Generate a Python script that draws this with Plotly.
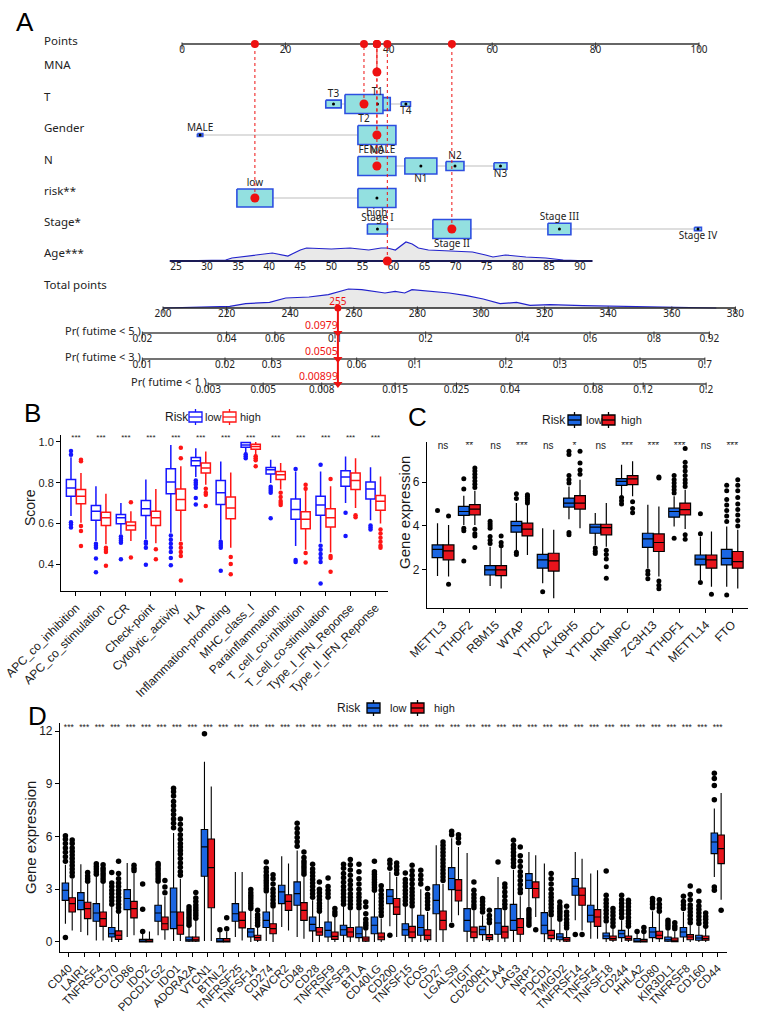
import math
import plotly.graph_objects as go

W, H = 770, 1030

# ================= Panel A : nomogram data =================
points_ticks = [0, 20, 40, 60, 80, 100]
mna_points = 37.7
T_levels = ["T1", "T2", "T3", "T4"]
T_points = [37.8, 35.2, 29.3, 43.3]
T_freq = [0.272, 0.595, 0.098, 0.035]
gender_levels = ["MALE", "FEMALE"]
gender_points = [3.5, 37.7]
gender_freq = [0.02, 0.98]
N_levels = ["N0", "N1", "N2", "N3"]
N_points = [37.7, 46.2, 52.8, 61.6]
N_freq = [0.488, 0.346, 0.109, 0.057]
risk_levels = ["low", "high"]
risk_points = [14.1, 37.7]
risk_freq = [0.473, 0.527]
stage_levels = ["Stage I", "Stage II", "Stage III", "Stage IV"]
stage_points = [37.8, 52.2, 73.0, 99.8]
stage_freq = [0.165, 0.596, 0.218, 0.020]

age_ticks = [25, 30, 35, 40, 45, 50, 55, 60, 65, 70, 75, 80, 85, 90]
age_scale_ages = [25, 90]
age_scale_points = [-1.16, 76.98]
age_axis_span = [24, 92]
age_grid = [24, 30, 33, 34, 37, 40.5, 43, 45, 46, 50, 53, 56, 58, 59, 60.3, 62, 63, 64,
            65.6, 69.5, 72.7, 74.8, 76, 78, 79.7, 81.3, 84.5, 87.3, 92]
age_density = [0, 0.5, 1, 3, 5, 8, 5, 11, 13, 12, 13, 11, 13, 13, 11, 19, 17, 13,
               11, 10, 9, 6, 4, 6, 5, 4, 3, 1, 0]

patient = {"T": "T2", "Gender": "FEMALE", "N": "N0", "risk": "low", "Stage": "Stage II"}
patient_age = 59
patient_total = 255

total_ticks = [200, 220, 240, 260, 280, 300, 320, 340, 360, 380]
total_grid = [200, 221, 226, 233.5, 238.6, 245.9, 252, 258.3, 262.5, 269.8, 273, 276, 278.3,
              283.5, 290, 295.5, 300.7, 306, 311.2, 315.4, 321.7, 332, 342.7, 353, 363.5, 374]
total_density = [0, 1.7, 4.3, 5.7, 10, 11, 13.3, 19, 18.3, 15, 16.7, 15, 18.3,
                 16.7, 15, 12.3, 9, 4.3, 5.7, 2.7, 3.3, 2.3, 1.7, 1, 0.3, 0]

pr5_labels = ["0.02", "0.04", "0.06", "0.1", "0.2", "0.4", "0.6", "0.8", "0.92"]
pr5_total = [193.5, 220.0, 235.2, 254.1, 282.6, 313.0, 334.3, 354.4, 371.8]
pr3_labels = ["0.01", "0.02", "0.03", "0.06", "0.1", "0.2", "0.3", "0.5", "0.7"]
pr3_total = [193.5, 219.5, 234.2, 260.9, 279.2, 307.8, 324.8, 350.0, 370.4]
pr1_labels = ["0.003", "0.005", "0.008", "0.015", "0.025", "0.04", "0.08", "0.12", "0.2"]
pr1_total = [214.2, 231.5, 249.9, 273.0, 292.3, 309.1, 335.3, 351.0, 370.8]
patient_probs = ["0.0979", "0.0505", "0.00899"]

# ================= Panel B data =================
B_names = ["APC_co_inhibition", "APC_co_stimulation", "CCR", "Check-point", "Cytolytic_activity",
           "HLA", "Inflammation-promoting", "MHC_class_I", "Parainflammation",
           "T_cell_co-inhibition", "T_cell_co-stimulation", "Type_I_IFN_Reponse", "Type_II_IFN_Reponse"]
B_sig = ["***"] * 13
B_low_q1 = [.733, .615, .598, .639, .745, .883, .693, .974, .842, .62, .64, .782, .72]
B_low_med = [.774, .66, .628, .672, .803, .907, .75, .985, .863, .668, .69, .828, .769]
B_low_q3 = [.815, .688, .644, .712, .868, .924, .81, .997, .875, .72, .733, .859, .803]
B_low_lo = [.636, .514, .546, .522, .554, .828, .52, .945, .798, .489, .506, .70, .615]
B_low_hi = [.925, .782, .70, .815, .985, .969, .904, 1.0, .912, .855, .855, .928, .876]
B_low_out = [[.956, .937, .605, .595, .58], [.50, .49, .48, .428, .36], [.535, .525, .515, .505, .424],
             [.51, .50, .48, .397], [.54, .52, .50, .48, .46, .43, .395], [.81, .80, .79, .775, .725, .693],
             [.51, .50, .49, .48, .367], [.94, .93, .92], [.78, .77, .76, .75, .625], [.867, .42, .41],
             [.888, .49, .47, .45, .43, .41, .305], [.652, .538], [.59, .58, .57]]
B_high_q1 = [.696, .59, .567, .59, .665, .847, .623, .964, .815, .574, .582, .766, .665]
B_high_med = [.733, .628, .59, .628, .717, .872, .676, .977, .839, .62, .628, .811, .709]
B_high_q3 = [.766, .655, .607, .66, .769, .896, .73, .989, .855, .657, .672, .847, .737]
B_high_lo = [.603, .498, .514, .502, .514, .79, .48, .937, .766, .47, .457, .676, .60]
B_high_hi = [.847, .746, .66, .769, .88, .953, .85, 1.0, .896, .78, .782, .92, .83]
B_high_out = [[.912, .905, .587, .563, .489], [.48, .47, .46, .392], [.704, .432], [.473, .424],
              [.972, .92, .50, .48, .46, .44, .319], [.77, .75, .74, .685], [.435, .40, .35],
              [.93, .92, .91, .88], [.75, .73, .71, .70, .69], [.79, .77, .454, .408],
              [.818, .44, .43, .363], [.64, .63], [.57, .55, .53, .51, .49, .48]]

# ================= Panel C data =================
C_names = ["METTL3", "YTHDF2", "RBM15", "WTAP", "YTHDC2", "ALKBH5", "YTHDC1", "HNRNPC",
           "ZC3H13", "YTHDF1", "METTL14", "FTO"]
C_sig = ["ns", "**", "ns", "***", "ns", "*", "ns", "***", "***", "***", "ns", "***"]
C_low_q1 = [2.56, 4.48, 1.77, 3.72, 2.08, 4.86, 3.67, 5.85, 3.03, 4.4, 2.23, 2.23]
C_low_med = [2.94, 4.66, 2.0, 4.02, 2.46, 5.04, 3.95, 6.03, 3.41, 4.66, 2.49, 2.53]
C_low_q3 = [3.14, 4.89, 2.2, 4.21, 2.71, 5.27, 4.08, 6.15, 3.67, 4.81, 2.68, 2.94]
C_low_lo = [1.73, 4.05, 1.27, 2.91, 1.39, 4.31, 3.14, 5.38, 2.08, 3.98, 1.54, 1.24]
C_low_hi = [4.13, 5.38, 3.06, 5.04, 3.9, 5.8, 4.59, 6.79, 4.97, 5.35, 3.52, 3.98]
C_low_out = [[4.71], [5.68, 6.15, 3.9, 3.78, 2.41], [3.2, 3.35, 3.52, 3.9, 4.0, 4.1, 4.21],
             [5.47, 5.25, 2.8, 2.7], [1.01], [5.95, 6.1, 6.3, 7.25, 7.4, 3.7, 3.6], [3.0, 2.85, 2.75],
             [5.3, 5.15, 5.0], [1.95, 1.8, 1.6], [5.5, 5.65, 5.8, 5.95, 6.1, 6.3, 3.44],
             [3.65, 4.56, 1.43], [4.2, 4.45, 4.7, 4.95, 5.2, 5.6, 5.85, 0.86]]
C_high_q1 = [2.46, 4.51, 1.74, 3.55, 1.95, 4.77, 3.6, 5.88, 2.84, 4.51, 2.08, 2.08]
C_high_med = [2.87, 4.77, 2.0, 3.86, 2.41, 5.04, 3.93, 6.14, 3.25, 4.74, 2.46, 2.38]
C_high_q3 = [3.14, 4.97, 2.2, 4.13, 2.76, 5.38, 4.08, 6.29, 3.64, 5.04, 2.68, 2.84]
C_high_lo = [1.7, 4.05, 1.16, 2.68, 0.71, 3.9, 3.06, 5.35, 1.7, 3.86, 1.24, 1.16]
C_high_hi = [4.05, 5.6, 3.0, 4.95, 3.83, 6.1, 5.04, 6.94, 4.89, 5.65, 3.75, 3.83]
C_high_out = [[4.46, 1.35], [5.75, 5.9, 6.05, 6.2, 6.35, 6.5, 6.64, 3.85, 3.65, 3.55, 3.02],
              [3.1, 3.25, 3.55], [5.05, 5.15, 5.25, 5.35, 5.42], [], [6.35, 6.55, 6.87, 7.4],
              [2.9, 2.7, 2.5, 2.15, 1.62], [5.1, 4.8, 4.6], [6.23, 6.18, 1.5, 1.3, 1.15],
              [5.8, 5.95, 6.1, 6.3, 6.5, 6.7, 6.9, 7.52, 3.6, 3.4], [0.9],
              [4.0, 4.25, 4.5, 4.75, 5.0, 5.3, 5.6, 5.85, 6.1]]

# ================= Panel D data =================
D_names = ["CD40", "LAIR1", "TNFRSF4", "CD70", "CD86", "IDO2", "PDCD1LG2", "IDO1", "ADORA2A", "VTCN1",
           "BTNL2", "TNFRSF25", "TNFSF14", "CD274", "HAVCR2", "CD48", "CD28", "TNFRSF9", "TNFSF9", "BTLA",
           "CD40LG", "CD200", "TNFSF15", "ICOS", "CD27", "LGALS9", "TIGIT", "CD200R1", "CTLA4", "LAG3",
           "NRP1", "PDCD1", "TMIGD2", "TNFRSF14", "TNFSF4", "TNFSF18", "CD244", "HHLA2", "CD80",
           "KIR3DL1", "TNFRSF8", "CD160", "CD44"]
D_sig = ["***"] * 43
D_low_q1 = [2.37, 1.84, 1.18, 0.28, 1.84, 0.0, 1.18, 0.76, 0.05, 3.74, 0.0, 1.18, 0.28, 0.82, 2.18, 2.09,
            0.63, 0.28, 0.38, 0.25, 0.47, 2.18, 0.38, 0.38, 1.61, 2.98, 0.61, 0.42, 0.44, 0.66, 3.04, 0.47,
            0.13, 2.66, 1.14, 0.19, 0.25, 0.0, 0.25, 0.04, 0.28, 0.1, 5.03]
D_low_med = [2.94, 2.37, 1.65, 0.47, 2.47, 0.03, 1.65, 1.71, 0.13, 5.41, 0.05, 1.61, 0.57, 1.23, 2.85, 2.75,
             1.0, 0.66, 0.7, 0.47, 0.95, 2.6, 0.7, 0.82, 2.37, 3.61, 1.23, 0.7, 1.08, 1.23, 3.51, 0.95,
             0.28, 3.17, 1.52, 0.34, 0.47, 0.06, 0.57, 0.13, 0.57, 0.23, 5.69]
D_low_q3 = [3.36, 2.81, 2.18, 0.82, 2.98, 0.15, 2.09, 3.07, 0.28, 6.4, 0.19, 2.18, 0.76, 1.71, 3.23, 3.42,
            1.42, 1.14, 0.95, 0.85, 1.42, 2.98, 1.04, 1.52, 3.26, 4.23, 1.9, 0.89, 1.9, 2.14, 3.89, 1.67,
            0.47, 3.61, 2.09, 0.51, 0.66, 0.19, 0.82, 0.28, 0.82, 0.38, 6.2]
D_low_lo = [1.04, 0.57, 0.08, 0.0, 0.28, 0.0, 0.38, 0.05, 0.0, 0.05, 0.0, 0.28, 0.0, 0.05, 0.85, 0.28,
            0.0, 0.0, 0.0, 0.0, 0.0, 0.89, 0.0, 0.0, 0.0, 1.14, 0.0, 0.05, 0.0, 0.0, 2.0, 0.0,
            0.0, 1.23, 0.19, 0.0, 0.0, 0.0, 0.0, 0.0, 0.0, 0.0, 3.7]
D_low_hi = [4.4, 4.42, 3.7, 1.99, 4.5, 0.55, 3.32, 6.2, 0.85, 10.26, 0.6, 3.98, 1.76, 2.75, 4.88, 5.2,
            2.37, 2.4, 1.99, 1.8, 2.8, 4.0, 1.99, 3.0, 5.5, 5.9, 5.07, 1.52, 3.7, 4.1, 5.12, 4.46,
            1.14, 5.12, 3.89, 1.04, 1.23, 0.5, 1.75, 0.65, 1.7, 0.89, 7.6]
D_low_out = [[0.25, 4.6, 4.85, 5.1, 5.35, 5.6, 5.85, 6.05], [], [3.85, 4.0, 4.15, 4.3, 4.45],
             [2.15, 2.35, 2.55, 2.75, 2.95, 3.15, 3.35, 3.95], [], [0.6, 1.86, 3.3],
             [3.45, 3.6, 3.75, 3.9, 4.05, 4.2, 4.35, 4.46],
             [6.5, 6.75, 7.0, 7.25, 7.5, 7.75, 8.0, 8.3, 8.55, 8.75],
             [0.95, 1.1, 1.25, 1.4, 1.55, 1.7, 1.85, 2.0], [11.85], [0.7], [],
             [1.9, 2.05, 2.2, 2.35, 2.5, 2.65, 2.8, 2.98],
             [2.9, 3.05, 3.2, 3.35, 3.5, 3.65, 3.8, 4.0, 4.2, 4.55], [],
             [5.45, 5.7, 5.95, 6.2, 6.45, 6.75],
             [2.55, 2.75, 2.95, 3.15, 3.35, 3.55, 3.75, 3.95, 4.15, 4.42],
             [2.55, 2.75, 2.95, 3.15, 3.64],
             [2.15, 2.35, 2.55, 2.75, 2.95, 3.15, 3.4, 3.65, 3.9, 4.2, 4.42],
             [1.95, 2.15, 2.35, 2.55, 2.75, 3.0, 3.3, 3.6, 4.0, 4.42],
             [2.95, 3.1, 3.25, 3.4, 3.55, 3.7, 3.85, 4.0, 4.6], [0.38, 4.2, 4.45, 4.65],
             [2.15, 2.35, 2.55, 2.75, 2.95, 3.15, 3.35, 3.55, 3.93], [3.3, 3.55, 3.8, 4.08], [],
             [0.95, 6.1, 6.3], [], [1.7, 1.9, 2.1, 2.3, 2.47], [4.55],
             [4.3, 4.5, 4.7, 4.9, 5.1, 5.3, 5.5, 5.79], [1.85, 1.7, 1.55, 1.4, 1.25, 1.1, 0.95], [],
             [1.3, 1.45, 1.6, 1.75, 1.9, 2.05, 2.28], [0.42], [],
             [1.2, 1.4, 1.6, 1.8, 2.0, 2.2, 2.4, 2.66, 4.04], [1.4, 1.6, 1.8, 2.0, 2.2, 2.4, 2.66],
             [0.6], [1.95, 2.15, 2.3, 2.47], [0.8, 0.95, 1.1, 1.23], [1.9, 2.1, 2.3, 2.6],
             [1.05, 1.25, 1.45, 1.65, 1.85, 2.05, 2.3, 2.9], [3.13, 2.94, 8.1, 8.9, 9.3, 9.6]]
D_high_q1 = [1.71, 1.33, 0.89, 0.15, 1.37, 0.0, 0.7, 0.44, 0.05, 1.95, 0.0, 0.8, 0.1, 0.47, 1.8, 1.23,
             0.38, 0.15, 0.28, 0.05, 0.13, 1.57, 0.25, 0.13, 0.7, 2.33, 0.25, 0.13, 0.23, 0.44, 2.52, 0.19,
             0.04, 2.09, 0.89, 0.1, 0.1, 0.0, 0.19, 0.02, 0.13, 0.1, 4.46]
D_high_med = [2.18, 1.9, 1.33, 0.38, 1.9, 0.03, 1.04, 0.95, 0.13, 4.23, 0.05, 1.23, 0.25, 0.76, 2.31, 1.8,
              0.57, 0.32, 0.57, 0.17, 0.28, 1.99, 0.57, 0.38, 1.23, 2.94, 0.57, 0.25, 0.57, 0.82, 3.04, 0.38,
              0.13, 2.66, 1.42, 0.19, 0.19, 0.06, 0.38, 0.1, 0.28, 0.19, 5.31]
D_high_q3 = [2.52, 2.26, 1.71, 0.63, 2.31, 0.15, 1.42, 1.71, 0.28, 5.86, 0.19, 1.71, 0.38, 1.04, 2.69, 2.24,
             0.82, 0.57, 0.82, 0.28, 0.51, 2.47, 0.89, 0.7, 1.76, 3.55, 0.85, 0.42, 0.89, 1.33, 3.42, 0.66,
             0.25, 3.07, 1.84, 0.34, 0.34, 0.15, 0.61, 0.23, 0.42, 0.34, 6.09]
D_high_lo = [0.66, 0.38, 0.08, 0.0, 0.38, 0.0, 0.13, 0.05, 0.0, 0.05, 0.0, 0.08, 0.0, 0.0, 0.66, 0.19,
             0.0, 0.0, 0.0, 0.0, 0.0, 0.28, 0.0, 0.0, 0.0, 1.52, 0.0, 0.0, 0.0, 0.0, 1.42, 0.0,
             0.0, 0.66, 0.19, 0.0, 0.0, 0.0, 0.0, 0.0, 0.0, 0.0, 2.41]
D_high_hi = [3.6, 3.3, 3.32, 1.6, 3.9, 0.6, 2.6, 3.6, 1.23, 8.84, 0.6, 3.98, 0.85, 1.9, 4.46, 3.7,
             1.61, 1.42, 1.8, 0.65, 1.33, 3.7, 1.9, 1.7, 3.3, 5.4, 1.8, 0.95, 1.8, 2.6, 4.93, 1.4,
             0.63, 4.74, 4.08, 0.76, 0.76, 0.5, 1.6, 0.6, 0.95, 0.76, 8.47]
D_high_out = [[3.75, 3.95, 4.15, 4.35, 4.55, 4.75, 4.95, 5.15, 5.35, 5.6, 5.8], [3.45, 3.6, 3.75, 3.95],
              [3.45, 3.6, 3.75, 3.9, 4.05, 4.2, 4.4],
              [1.75, 1.95, 2.15, 2.35, 2.55, 2.75, 2.95, 3.15, 3.35, 3.6, 3.9, 4.6], [4.05, 4.2, 4.36], [],
              [2.8, 3.13, 3.5],
              [3.8, 4.0, 4.25, 4.5, 4.75, 5.0, 5.2, 5.4, 5.6, 5.85, 6.1, 6.4, 6.7, 7.0],
              [1.35, 1.5, 1.65, 1.8, 1.95, 2.1, 2.3, 2.5, 2.81], [], [0.75, 1.38], [],
              [0.95, 1.1, 1.25, 1.4, 1.55, 1.8], [2.05, 2.2, 2.4, 2.6, 2.8, 3.0, 3.3, 3.6, 3.83], [],
              [3.85, 4.0, 4.15, 4.3, 4.45, 4.6, 4.8, 5.12],
              [1.75, 1.9, 2.05, 2.2, 2.4, 2.6, 2.8, 3.0, 3.42], [1.55, 1.7, 1.9],
              [1.95, 2.15, 2.35, 2.55, 2.75, 3.0, 3.25, 3.5, 3.8, 4.1, 4.4, 4.69],
              [0.8, 0.95, 1.1, 1.3, 1.6, 2.0, 2.28], [1.5, 1.7, 1.9, 2.1, 2.3, 2.5, 2.7, 2.95, 3.2],
              [3.9, 4.1, 4.3, 4.5], [2.05, 2.25, 2.45, 2.65, 2.85, 3.05, 3.3, 3.55, 3.8, 4.05, 4.36],
              [1.9, 2.1, 2.3, 2.5, 2.7, 3.04],
              [3.5, 3.7, 3.9, 4.1, 4.3, 4.5, 4.7, 4.9, 5.1, 5.3, 5.5, 5.69], [5.65, 5.9, 6.1],
              [1.95, 2.1, 2.3, 2.5, 2.7, 2.95, 3.42], [1.1, 1.3, 1.5, 1.8],
              [1.95, 2.15, 2.35, 2.6, 2.85, 3.1, 3.3], [2.8, 3.0, 3.25, 3.5, 3.75, 4.0, 4.3, 4.6, 4.9, 5.41],
              [0.7], [1.55, 1.75, 1.95, 2.15, 2.35, 2.55, 2.75, 3.0, 3.3, 3.6, 3.89],
              [0.8, 0.95, 1.1, 1.3, 1.5, 1.7, 2.03], [0.42], [], [0.9, 1.1, 1.3, 1.5, 1.7, 1.9],
              [0.9, 1.05, 1.2, 1.4, 1.6, 1.8, 2.0, 2.2, 2.37], [0.6, 0.82], [1.75, 1.95, 2.15, 2.4],
              [0.75, 0.9, 1.1], [1.1, 1.3, 1.5, 1.7, 1.9, 2.1, 2.4, 2.7, 3.19],
              [0.9, 1.1, 1.3, 1.45, 1.65], [1.8]]

# ================= styles / layout constants =================
FONT_A = "Noto Sans, DejaVu Sans, sans-serif"
FONT_G = "Liberation Sans, Arial, sans-serif"
RED = "#ee1111"
BOX_LINE_A = "#2d4fe0"
BOX_FILL_A = "#93e0e0"
LOW_FILL = "#1b66e2"
HIGH_FILL = "#e8141c"
B_LOW_LINE = "#1515ff"
B_HIGH_LINE = "#ff1515"

PX_PT0, PX_PER_PT = 182.0, 5.17        # points axis: 0 -> px 182
PX_TP200, PX_PER_TP = 163.0, 3.18      # total points axis: 200 -> px 163
BOX_W_PX, BOX_H_PX = 38.0, 19.0

ROW = {"points": 44, "MNA": 72, "T": 104, "Gender": 135, "N": 166, "risk": 198,
       "Stage": 229, "Age": 261, "total": 308, "pr5": 333, "pr3": 359, "pr1": 384}
ROW_LABELS = [("Points", 40), ("MNA", 64), ("T", 96), ("Gender", 127), ("N", 159),
              ("risk**", 190), ("Stage*", 221), ("Age***", 252), ("Total points", 284)]

fig = go.Figure()
A1 = dict(xaxis="x", yaxis="y", showlegend=False, hoverinfo="skip")
A2 = dict(xaxis="x2", yaxis="y", showlegend=False, hoverinfo="skip")


def age_to_points(a):
    a0, a1 = age_scale_ages
    p0, p1 = age_scale_points
    return p0 + (a - a0) * (p1 - p0) / (a1 - a0)


def axis_row(ticks, labels, y, kw, color="#555", width=1.8, label_dy=6):
    fig.add_trace(go.Scatter(x=[ticks[0], ticks[-1]], y=[y, y], mode="lines",
                             line=dict(color=color, width=width), **kw))
    fig.add_trace(go.Scatter(x=ticks, y=[y + 2] * len(ticks), mode="markers",
                             marker=dict(symbol="line-ns", size=5, line=dict(width=1, color="#333")), **kw))
    fig.add_trace(go.Scatter(x=ticks, y=[y + label_dy] * len(ticks), mode="text", text=labels,
                             textfont=dict(family=FONT_A, size=10, color="#222"), **kw))


# Points axis
axis_row(points_ticks, [str(t) for t in points_ticks], ROW["points"], A1, color="#666", width=2.2)

# Categorical rows
cat_vars = [("T", T_levels, T_points, T_freq), ("Gender", gender_levels, gender_points, gender_freq),
            ("N", N_levels, N_points, N_freq), ("risk", risk_levels, risk_points, risk_freq),
            ("Stage", stage_levels, stage_points, stage_freq)]
selected = {"MNA": mna_points}
for key, levels, pts, freq in cat_vars:
    yr = ROW[key]
    fig.add_trace(go.Scatter(x=[min(pts), max(pts)], y=[yr, yr], mode="lines",
                             line=dict(color="#bdbdbd", width=1), **A1))
    fmax = max(freq)
    lx, ly, lt = [], [], []
    for j, (lev, p, f) in enumerate(zip(levels, pts, freq)):
        s = math.sqrt(f / fmax)
        w = BOX_W_PX * s / PX_PER_PT
        h = BOX_H_PX * s
        fig.add_trace(go.Scatter(x=[p - w / 2, p + w / 2, p + w / 2, p - w / 2, p - w / 2],
                                 y=[yr - h / 2, yr - h / 2, yr + h / 2, yr + h / 2, yr - h / 2],
                                 mode="lines", fill="toself", fillcolor=BOX_FILL_A,
                                 line=dict(color=BOX_LINE_A, width=1.6), **A1))
        lx.append(p)
        ly.append(yr - h / 2 - 5.5 if j % 2 == 0 else yr + h / 2 + 5.5)
        lt.append(lev)
    fig.add_trace(go.Scatter(x=lx, y=ly, mode="text", text=lt,
                             textfont=dict(family=FONT_A, size=10, color="#222"), **A1))
    fig.add_trace(go.Scatter(x=pts, y=[yr] * len(pts), mode="markers",
                             marker=dict(color="black", size=3), **A1))
    selected[key] = pts[levels.index(patient[key])]

# Age row
age_pts = [age_to_points(a) for a in age_grid]
age_y = [ROW["Age"] - d for d in age_density]
fig.add_trace(go.Scatter(x=age_pts + [age_pts[-1], age_pts[0]], y=age_y + [ROW["Age"], ROW["Age"]],
                         mode="lines", fill="toself", fillcolor="#e9e9e9", line=dict(width=0), **A1))
fig.add_trace(go.Scatter(x=age_pts, y=age_y, mode="lines", line=dict(color="#2222cc", width=1.2), **A1))
fig.add_trace(go.Scatter(x=[age_to_points(age_axis_span[0]), age_to_points(age_axis_span[1])],
                         y=[ROW["Age"], ROW["Age"]], mode="lines",
                         line=dict(color="#1a1a55", width=1.8), **A1))
age_tick_pts = [age_to_points(a) for a in age_ticks]
fig.add_trace(go.Scatter(x=age_tick_pts, y=[ROW["Age"] + 6] * len(age_ticks), mode="text",
                         text=[str(a) for a in age_ticks],
                         textfont=dict(family=FONT_A, size=10, color="#222"), **A1))
selected["Age"] = age_to_points(patient_age)

# dotted guide lines from each selected value up to the Points axis
for key, p in selected.items():
    fig.add_trace(go.Scatter(x=[p, p], y=[ROW[key], ROW["points"]], mode="lines",
                             line=dict(color=RED, width=1, dash="dot"), **A1))
fig.add_trace(go.Scatter(x=list(selected.values()), y=[ROW[k] for k in selected], mode="markers",
                         marker=dict(color=RED, size=9), **A1))
fig.add_trace(go.Scatter(x=list(selected.values()), y=[ROW["points"]] * len(selected), mode="markers",
                         marker=dict(color=RED, size=8), **A1))

# Total points row
fig.add_trace(go.Scatter(x=total_grid + [total_grid[-1], total_grid[0]],
                         y=[ROW["total"] - d for d in total_density] + [ROW["total"], ROW["total"]],
                         mode="lines", fill="toself", fillcolor="#e9e9e9", line=dict(width=0), **A2))
fig.add_trace(go.Scatter(x=total_grid, y=[ROW["total"] - d for d in total_density], mode="lines",
                         line=dict(color="#2222cc", width=1.2), **A2))
axis_row(total_ticks, [str(t) for t in total_ticks], ROW["total"], A2, color="#222", width=1.4)

# Probability axes
for key, labs, pos, title in [("pr5", pr5_labels, pr5_total, "Pr( futime < 5 )"),
                              ("pr3", pr3_labels, pr3_total, "Pr( futime < 3 )"),
                              ("pr1", pr1_labels, pr1_total, "Pr( futime < 1 )")]:
    axis_row(pos, labs, ROW[key], A2, color="#444", width=1.6)
    fig.add_annotation(x=pos[0], y=ROW[key] - 3, xref="x2", yref="y", text=title, showarrow=False,
                       xanchor="right", xshift=1, font=dict(family=FONT_A, size=11, color="#222"))

# patient total points & predicted probabilities
fig.add_trace(go.Scatter(x=[patient_total, patient_total], y=[ROW["total"], ROW["pr1"]], mode="lines",
                         line=dict(color=RED, width=2), **A2))
fig.add_trace(go.Scatter(x=[patient_total], y=[ROW["total"]], mode="markers",
                         marker=dict(color=RED, size=7), **A2))
fig.add_trace(go.Scatter(x=[patient_total] * 3, y=[ROW["pr5"], ROW["pr3"], ROW["pr1"]], mode="markers",
                         marker=dict(color=RED, size=8, symbol="triangle-down"), **A2))
fig.add_trace(go.Scatter(x=[patient_total], y=[ROW["total"] - 6], mode="text", text=[str(patient_total)],
                         textfont=dict(family=FONT_A, size=10, color=RED), **A2))
fig.add_trace(go.Scatter(x=[patient_total] * 3, y=[ROW["pr5"] - 7, ROW["pr3"] - 7, ROW["pr1"] - 7],
                         mode="text", text=patient_probs, textposition="middle left",
                         textfont=dict(family=FONT_A, size=10.5, color=RED), **A2))

for txt, yy in ROW_LABELS:
    fig.add_annotation(x=42 / W, y=yy, xref="paper", yref="y", text=txt, showarrow=False,
                       xanchor="left", yanchor="middle", font=dict(family=FONT_A, size=11.5, color="#222"))


# ================= Box-plot panels =================
def box_series(xa, ya, off, width, q1, med, q3, lo, hi, outs, fill, line_color, line_w,
               out_color, out_size, name):
    xs = [i + off for i in range(len(q1))]
    fig.add_trace(go.Box(x=xs, q1=q1, median=med, q3=q3, lowerfence=lo, upperfence=hi,
                         orientation="v", width=width, boxpoints=False, whiskerwidth=0,
                         fillcolor=fill, line=dict(color=line_color, width=line_w),
                         name=name, showlegend=False, hoverinfo="skip",
                         xaxis=xa, yaxis=ya))
    ox, oy = [], []
    for i, vals in enumerate(outs):
        for v in vals:
            ox.append(i + off)
            oy.append(v)
    fig.add_trace(go.Scatter(x=ox, y=oy, mode="markers", marker=dict(color=out_color, size=out_size),
                             showlegend=False, hoverinfo="skip", xaxis=xa, yaxis=ya))


# Panel B
box_series("x3", "y3", -0.2, 0.37, B_low_q1, B_low_med, B_low_q3, B_low_lo, B_low_hi, B_low_out,
           "white", B_LOW_LINE, 1.5, B_LOW_LINE, 4.5, "low")
box_series("x3", "y3", 0.2, 0.37, B_high_q1, B_high_med, B_high_q3, B_high_lo, B_high_hi, B_high_out,
           "white", B_HIGH_LINE, 1.5, B_HIGH_LINE, 4.5, "high")
fig.add_trace(go.Scatter(x=list(range(len(B_names))), y=[1.021] * len(B_names), mode="text", text=B_sig,
                         textfont=dict(family=FONT_G, size=8, color="#222"), showlegend=False,
                         hoverinfo="skip", xaxis="x3", yaxis="y3"))

# Panel C
box_series("x4", "y4", -0.21, 0.41, C_low_q1, C_low_med, C_low_q3, C_low_lo, C_low_hi, C_low_out,
           LOW_FILL, "black", 1.2, "black", 5, "low")
box_series("x4", "y4", 0.21, 0.41, C_high_q1, C_high_med, C_high_q3, C_high_lo, C_high_hi, C_high_out,
           HIGH_FILL, "black", 1.2, "black", 5, "high")
fig.add_trace(go.Scatter(x=list(range(len(C_names))), y=[7.63] * len(C_names), mode="text", text=C_sig,
                         textfont=dict(family=FONT_G, size=10, color="#222"), showlegend=False,
                         hoverinfo="skip", xaxis="x4", yaxis="y4"))

# Panel D
box_series("x5", "y5", -0.22, 0.42, D_low_q1, D_low_med, D_low_q3, D_low_lo, D_low_hi, D_low_out,
           LOW_FILL, "black", 1.1, "black", 5.5, "low")
box_series("x5", "y5", 0.22, 0.42, D_high_q1, D_high_med, D_high_q3, D_high_lo, D_high_hi, D_high_out,
           HIGH_FILL, "black", 1.1, "black", 5.5, "high")
fig.add_trace(go.Scatter(x=list(range(len(D_names))), y=[12.18] * len(D_names), mode="text", text=D_sig,
                         textfont=dict(family=FONT_G, size=8.5, color="#222"), showlegend=False,
                         hoverinfo="skip", xaxis="x5", yaxis="y5"))


# ---------- ggplot-style legends (drawn in figure pixel space) ----------
def legend_key(x0, yc, fill, line_color, w=13, h=10):
    x1 = x0 + w
    xm = (x0 + x1) / 2
    common = dict(xref="paper", yref="y", line=dict(color=line_color, width=1.3))
    fig.add_shape(type="line", x0=xm / W, x1=xm / W, y0=yc - h / 2 - 3, y1=yc + h / 2 + 3, **common)
    fig.add_shape(type="rect", x0=x0 / W, x1=x1 / W, y0=yc - h / 2, y1=yc + h / 2, fillcolor=fill, **common)
    fig.add_shape(type="line", x0=x0 / W, x1=x1 / W, y0=yc, y1=yc, **common)


def plain_text(x, yc, txt, size, anchor="left", angle=0):
    fig.add_annotation(x=x / W, y=yc, xref="paper", yref="y", text=txt, showarrow=False, textangle=angle,
                       xanchor=anchor, yanchor="middle", font=dict(family=FONT_G, size=size, color="#1a1a1a"))


LEGENDS = [
    # (y, risk_x, low_key_x, low_txt_x, high_key_x, high_txt_x, low_fill, low_line, high_fill, high_line)
    (417, 163, 189, 203, 223, 238, "white", B_LOW_LINE, "white", B_HIGH_LINE),
    (420, 540, 568, 584, 602, 619, LOW_FILL, "black", HIGH_FILL, "black"),
    (708, 335, 367, 388, 411, 432, LOW_FILL, "black", HIGH_FILL, "black"),
]
for yc, rx, lkx, ltx, hkx, htx, lf, ll, hf, hl in LEGENDS:
    plain_text(rx, yc, "Risk", 12)
    legend_key(lkx, yc, lf, ll)
    plain_text(ltx, yc, "low", 11)
    legend_key(hkx, yc, hf, hl)
    plain_text(htx, yc, "high", 11)

# y-axis titles (placed like ggplot)
plain_text(30, 508, "Score", 14, anchor="center", angle=-90)
plain_text(404, 512, "Gene expression", 15, anchor="center", angle=-90)
plain_text(30, 838, "Gene expression", 15, anchor="center", angle=-90)


def dom_x(a, b):
    return [a / W, b / W]


def dom_y(top, bottom):
    return [1 - bottom / H, 1 - top / H]


ax_common = dict(showline=True, linecolor="black", linewidth=1.1, ticks="outside", ticklen=4,
                 tickwidth=1, tickcolor="black", showgrid=False, zeroline=False, automargin=False,
                 tickfont=dict(family=FONT_G, size=12, color="#1a1a1a"))
ax_small_y = {**ax_common, "tickfont": dict(family=FONT_G, size=11, color="#1a1a1a")}

fig.update_layout(
    width=W, height=H, margin=dict(l=0, r=0, t=0, b=0, autoexpand=False),
    paper_bgcolor="white", plot_bgcolor="white", showlegend=False,
    font=dict(family=FONT_G),
    xaxis=dict(domain=[0, 1], range=[(0 - PX_PT0) / PX_PER_PT, (W - PX_PT0) / PX_PER_PT],
               visible=False, anchor="y", automargin=False),
    xaxis2=dict(domain=[0, 1], range=[200 + (0 - PX_TP200) / PX_PER_TP, 200 + (W - PX_TP200) / PX_PER_TP],
                visible=False, overlaying="x", anchor="y", automargin=False),
    yaxis=dict(domain=[0, 1], range=[H, 0], visible=False, anchor="x", automargin=False),
    xaxis3=dict(domain=dom_x(61, 388), range=[-0.6, 12.5], anchor="y3", tickmode="array",
                tickvals=list(range(len(B_names))), ticktext=B_names, tickangle=-45, **ax_common),
    yaxis3=dict(domain=dom_y(435, 591), range=[0.268, 1.034], anchor="x3", tickmode="array",
                tickvals=[0.4, 0.6, 0.8, 1.0], ticktext=["0.4", "0.6", "0.8", "1.0"], **ax_small_y),
    xaxis4=dict(domain=dom_x(427, 748), range=[-0.61, 11.6], anchor="y4", tickmode="array",
                tickvals=list(range(len(C_names))), ticktext=C_names, tickangle=-45, **ax_common),
    yaxis4=dict(domain=dom_y(442, 608), range=[0.27, 7.82], anchor="x4", tickmode="array",
                tickvals=[2, 4, 6], ticktext=["2", "4", "6"], **ax_common),
    xaxis5=dict(domain=dom_x(60, 727), range=[-0.57, 42.6], anchor="y5", tickmode="array",
                tickvals=list(range(len(D_names))), ticktext=D_names, tickangle=-45,
                **{**ax_common, "tickfont": dict(family=FONT_G, size=11.5, color="#1a1a1a")}),
    yaxis5=dict(domain=dom_y(723, 952), range=[-0.57, 12.46], anchor="x5", tickmode="array",
                tickvals=[0, 3, 6, 9, 12], ticktext=["0", "3", "6", "9", "12"], **ax_common),
)

for letter, px, py in [("A", 25, 22), ("B", 32, 413), ("C", 418, 417), ("D", 37, 716)]:
    fig.add_annotation(x=px / W, y=1 - py / H, xref="paper", yref="paper", text=letter, showarrow=False,
                       xanchor="center", yanchor="middle", font=dict(family=FONT_G, size=26, color="black"))

# remove the browser's default 8px page margin so the figure starts at the window's corner
fig.write_html("out.html", config={"displayModeBar": False},
               post_script="document.body.style.margin='0px';")
